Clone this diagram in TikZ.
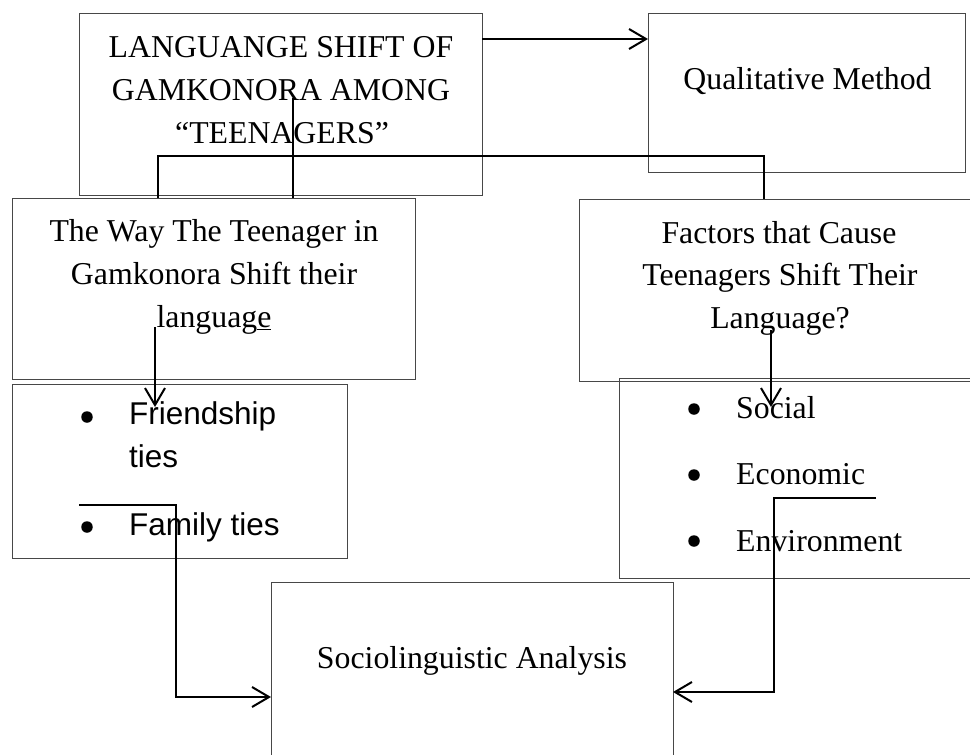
\documentclass[tikz,border=0pt]{standalone}
\usepackage{fontspec}
\setmainfont{Liberation Serif}
\newfontfamily\arialf{Liberation Sans}
\usetikzlibrary{arrows.meta}
\begin{document}
\begin{tikzpicture}[x=1pt,y=-1pt,
  box/.style={draw=black!72, line width=0.9pt, inner sep=0pt, outer sep=0pt},
  txt/.style={font=\fontsize{31.8}{43}\selectfont, inner sep=0pt, anchor=base},
  ltxt/.style={txt, anchor=base west},
  stxt/.style={font=\arialf\fontsize{31.5}{42}\selectfont, inner sep=0pt, anchor=base west},
  conn/.style={line width=2pt, draw=black},
  thinconn/.style={line width=1.3pt, draw=black},
  tip/.style={-{Straight Barb[length=17pt,width=20pt]}},
  dot/.style={circle, fill=black, inner sep=0pt, minimum size=11.5pt}]
\useasboundingbox (0,0) rectangle (970,755);
\begin{scope}
\clip (0,0) rectangle (970,755);
% boxes
\node[box, minimum width=403pt, minimum height=182pt] (A) at (280.5,104) {};
\node[box, minimum width=317pt, minimum height=159pt] (B) at (806.5,92.5) {};
\node[box, minimum width=403pt, minimum height=181pt] (C) at (213.5,288.5) {};
\node[box, minimum width=406pt, minimum height=182pt] (D) at (782,290) {};
\node[box, minimum width=335pt, minimum height=174pt] (E) at (179.5,471) {};
\node[box, minimum width=366pt, minimum height=200pt] (F) at (802,478) {};
\node[box, minimum width=402pt, minimum height=188pt] (G) at (472,676) {};
% texts
\node[txt] (a1) at (281,57) {LANGUANGE SHIFT OF};
\node[txt] (a2) at (281,100) {GAMKONORA AMONG};
\node[txt] (a3) at (282,143) {“TEENAGERS”};
\node[txt] (b1) at (807.5,89) {Qualitative Method};
\node[txt] (c1) at (214,241) {The Way The Teenager in};
\node[txt] (c2) at (214,284) {Gamkonora Shift their};
\node[txt] (c3) at (214,327) {languag\underline{e}};
\node[txt] (d1) at (779,243) {Factors that Cause};
\node[txt] (d2) at (780,285) {Teenagers Shift Their};
\node[txt] (d3) at (780,328) {Language?};
\node[dot] (e0) at (87,417) {};
\node[stxt] (e1) at (129,424) {Friendship};
\node[stxt] (e2) at (129,467) {ties};
\node[dot] (e3) at (87,527) {};
\node[stxt] (e4) at (129,535) {Family ties};
\node[dot] (f0) at (694,409) {};
\node[ltxt] (f1) at (736,418) {Social};
\node[dot] (f2) at (694,475) {};
\node[ltxt] (f3) at (736,484) {Economic};
\node[dot] (f4) at (694,541) {};
\node[ltxt] (f5) at (736,551) {Environment};
\node[txt] (g1) at (472,668) {Sociolinguistic Analysis};
% connector points
\coordinate (yAB) at (0,39);
\coordinate (k1) at (293,98);
\coordinate (k2) at (158,156);
\coordinate (k3) at (764,156);
\coordinate (k4) at (155,327);
\coordinate (k5) at (155,407);
\coordinate (k6) at (771,330);
\coordinate (k7) at (771,407);
\coordinate (k8) at (79,505);
\coordinate (k9) at (176,505);
\coordinate (k10) at (176,697);
\coordinate (k11) at (876,498);
\coordinate (k12) at (774,498);
\coordinate (k13) at (774,692);
% connectors
\draw[conn, tip] (A.east |- yAB) -- (B.west |- yAB);
\draw[thinconn] (k1) -- (C.north -| k1);
\draw[conn] (C.north -| k2) -- (k2) -- (k3) -- (D.north -| k3);
\draw[conn, tip] (k4) -- (k5);
\draw[conn, tip] (k6) -- (k7);
\draw[conn, tip] (k8) -- (k9) -- (k10) -- (G.west |- k10);
\draw[conn, tip] (k11) -- (k12) -- (k13) -- (G.east |- k13);
\end{scope}
\end{tikzpicture}
\end{document}
